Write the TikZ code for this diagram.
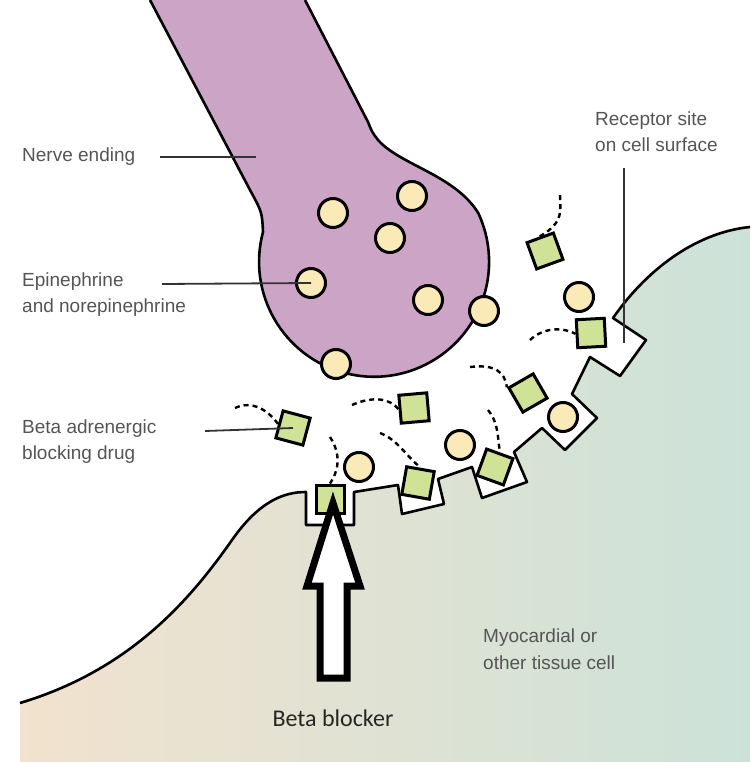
\documentclass[tikz,border=0pt]{standalone}
\usepackage{fontspec}
\setmainfont{Liberation Sans}
\newfontfamily\calib{Carlito}
\definecolor{nerve}{RGB}{204,164,198}
\definecolor{ball}{RGB}{250,234,184}
\definecolor{drug}{RGB}{208,226,150}
\definecolor{peach}{RGB}{242,226,206}
\definecolor{mint}{RGB}{204,226,216}
\definecolor{txt}{RGB}{85,85,85}
\begin{document}
\begin{tikzpicture}[x=1pt,y=-1pt,
  ballst/.style={circle,draw=black,line width=3pt,fill=ball,minimum size=29pt,inner sep=0pt},
  drugst/.style={draw=black,line width=3pt,fill=drug,minimum size=28pt,inner sep=0pt},
  tail/.style={line width=2.4pt,dash pattern=on 5pt off 4pt},
  lbl/.style={text=txt,font=\fontsize{19}{22}\selectfont,align=left,anchor=west,inner sep=0pt},
  lead/.style={line width=1.8pt,draw=black!80}]
\useasboundingbox (0,0) rectangle (750,762);
% cell
\path[left color=peach,right color=mint]
 (20,703) .. controls (130,670) and (190,600) .. (232,540) .. controls (260,500) and (285,492) .. (306,492)
 -- (306,525) -- (354,525) -- (354,492) -- (398,485) -- (402,514) -- (444,504) -- (438,479)
 -- (472,467) -- (482,498) -- (527,482) -- (514,452) -- (542,428) -- (565,450) -- (597,418) -- (572,394)
 -- (590,357) -- (620,376) -- (646,340) -- (613,318)
 .. controls (650,265) and (700,232) .. (750,227) -- (750,762) -- (20,762) -- cycle;
\draw[line width=2.6pt,line join=round]
 (20,703) .. controls (130,670) and (190,600) .. (232,540) .. controls (260,500) and (285,492) .. (306,492)
 -- (306,525) -- (354,525) -- (354,492) -- (398,485) -- (402,514) -- (444,504) -- (438,479)
 -- (472,467) -- (482,498) -- (527,482) -- (514,452) -- (542,428) -- (565,450) -- (597,418) -- (572,394)
 -- (590,357) -- (620,376) -- (646,340) -- (613,318)
 .. controls (650,265) and (700,232) .. (750,227);
% nerve ending
\draw[fill=nerve,line width=2.6pt] (150,0) -- (250,190) .. controls (262,212) .. (263,232)
  arc[start angle=195,end angle=-25,radius=115] .. controls (455,175) and (400,165) .. (378,140) .. controls (372,132) .. (368,122) -- (305,0);
% balls
\foreach \n/\p in {b1/{(333,213)},b2/{(412,196)},b3/{(390,238)},b4/{(311,283)},b5/{(428,300)},b6/{(484,311)},b7/{(336,364)},b8/{(579,297)},b9/{(563,417)},b10/{(460,445)},b11/{(359,467)}}
  \node[ballst] (\n) at \p {};
% drugs
\node[drugst,rotate=20] (d1) at (545,251) {};
\node[drugst,rotate=3] (d2) at (591,333) {};
\node[drugst,rotate=30] (d3) at (528,393) {};
\node[drugst,rotate=5] (d4) at (414,408) {};
\node[drugst,rotate=-20] (d5) at (495,467) {};
\node[drugst,rotate=-10] (d6) at (418,483) {};
\node[drugst] (d7) at (330,499) {};
\node[drugst,rotate=-15] (d8) at (293,428) {};
% tails
\draw[tail] (d1.north) .. controls (565,222) and (560,210) .. (560,193);
\draw[tail] (530,340) .. controls (545,326) and (565,328) .. (d2.west);
\draw[tail] (470,367) .. controls (495,364) and (505,372) .. (d3.north west);
\draw[tail] (352,405) .. controls (372,396) and (390,398) .. (d4.west);
\draw[tail] (488,410) .. controls (500,425) and (497,440) .. (d5.north);
\draw[tail] (380,433) .. controls (398,440) and (405,455) .. (d6.north);
\draw[tail] (330,437) .. controls (342,455) and (338,472) .. (d7.north);
\draw[tail] (235,408) .. controls (252,400) and (268,410) .. (d8.west);
% arrow
\draw[line width=7pt,fill=white,line join=miter]
 (333,503) -- (360,586) -- (347,586) -- (347,678) -- (320,678) -- (320,586) -- (307,586) -- cycle;
\node[font=\calib\fontsize{24}{26}\selectfont,text=black!85] (bb) at (333,718) {Beta blocker};
% labels
\node[lbl] (ne) at (22,157) {Nerve ending};
\draw[lead] (160,157) -- (256,157);
\node[lbl,anchor=north west] (ep) at (22,273) {Epinephrine\\[4pt]and norepinephrine};
\draw[lead] (162,284) -- (b4.center);
\node[lbl,anchor=north west] (ba) at (22,420) {Beta adrenergic\\[4pt]blocking drug};
\draw[lead] (205,431) -- (d8.center);
\node[lbl,anchor=north west] (rs) at (595,112) {Receptor site\\[4pt]on cell surface};
\draw[lead] (624,168) -- (624,343);
\node[lbl,anchor=north west] (my) at (483,629) {Myocardial or\\[5pt]other tissue cell};
\end{tikzpicture}
\end{document}
